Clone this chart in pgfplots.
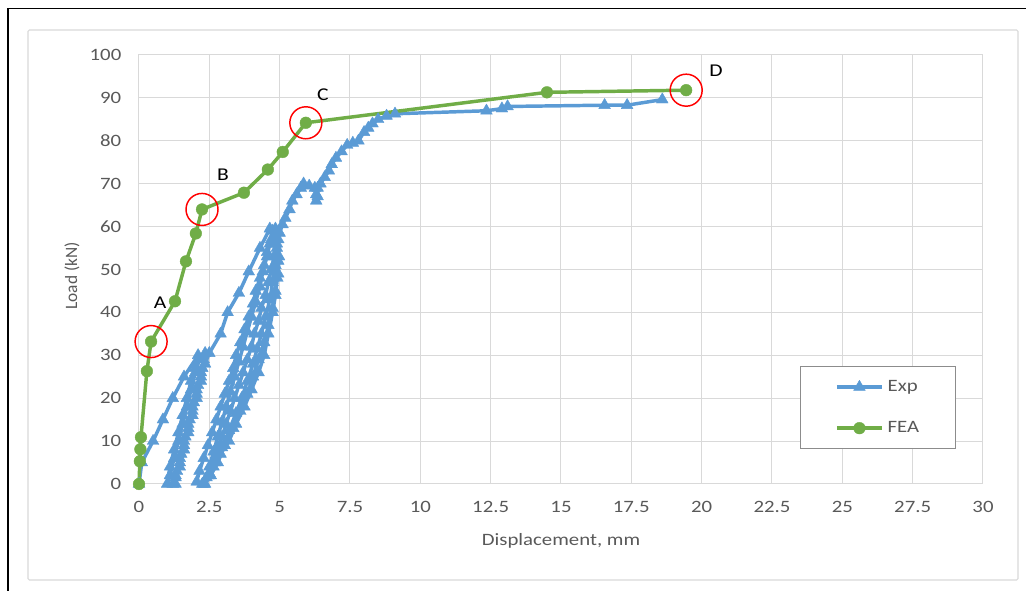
\documentclass[border=0pt]{standalone}
\usepackage{fontspec}
\setmainfont{Carlito}[FakeStretch=1.2]
\newfontfamily\plainfont{Carlito}
\usepackage{pgfplots}
\pgfplotsset{compat=1.18}
\definecolor{expblue}{HTML}{5B9BD5}
\definecolor{feagreen}{HTML}{70AD47}
\definecolor{gridgray}{HTML}{D9D9D9}
\definecolor{txtgray}{HTML}{595959}
\definecolor{legendgray}{HTML}{8C8C8C}
\begin{document}
\begin{tikzpicture}
\useasboundingbox (0,0) rectangle (769.5pt,-443.25pt);
\draw[black, line width=1.2pt] (6pt,-443.25pt) -- (6pt,-6.4pt) -- (769.5pt,-6.4pt);
\draw[gridgray, line width=0.8pt, rounded corners=1pt] (21pt,-22.5pt) rectangle (763.5pt,-435pt);
\begin{axis}[
  at={(104.25pt,-363pt)}, anchor=south west,
  scale only axis, width=633pt, height=321.75pt,
  xmin=0, xmax=30, ymin=0, ymax=100,
  clip=false,
  xtick={0,2.5,5,7.5,10,12.5,15,17.5,20,22.5,25,27.5,30},
  xticklabels={0,2.5,5,7.5,10,12.5,15,17.5,20,22.5,25,27.5,30},
  ytick={0,10,20,30,40,50,60,70,80,90,100},
  yticklabels={0,10,20,30,40,50,60,70,80,90,100},
  major tick length=0pt,
  grid=major,
  major grid style={gridgray, line width=0.75pt},
  axis line style={gridgray, line width=0.75pt},
  tick label style={font=\fontsize{13}{15}\selectfont, text=txtgray},
  xticklabel style={yshift=-9.5pt},
  yticklabel style={xshift=-9.75pt},
  xlabel={Displacement, mm},
  ylabel={Load (kN)},
  xlabel style={font=\fontsize{13}{15}\selectfont, text=txtgray, at={(axis description cs:0.5,-0.1329)}, anchor=center},
  ylabel style={font=\plainfont\fontsize{13}{15}\selectfont, text=txtgray, at={(axis description cs:-0.0794,0.485)}, anchor=center},
  legend style={at={(axis description cs:0.7832,0.2751)}, anchor=north west,
    draw=legendgray, line width=0.75pt, fill=white,
    inner xsep=26pt, inner ysep=9pt,
    font=\fontsize{13}{15}\selectfont, text=txtgray,
    nodes={inner sep=1.5pt},
    row sep=18pt,
    /tikz/every odd column/.style={column sep=1.5pt},
    cells={anchor=west}},
  legend image code/.code={\draw[mark repeat=2,mark phase=2,#1] plot coordinates {(0pt,0pt) (16.9pt,0pt) (33.75pt,0pt)};},
]
\addplot[expblue, line width=2.6pt, line join=round, mark=triangle*, mark size=5.1pt, mark options={solid, fill=expblue, draw=expblue, line width=0.3pt}] coordinates {
(0,0) (0.1,5) (0.5,10) (0.85,15) (1.2,20) (1.6,25) (2.1,30)
(2.0,27) (1.85,24) (1.7,20) (1.55,16) (1.4,12) (1.25,8) (1.1,4) (1.0,0)
(1.1,2) (1.25,6) (1.4,10) (1.55,14) (1.7,18) (1.85,22) (2.0,26) (2.15,29) (2.35,30.5)
(2.25,27) (2.1,23) (1.95,19) (1.8,15) (1.65,11) (1.5,7) (1.35,3) (1.3,0)
(1.3,2) (1.45,6) (1.6,10) (1.75,14) (1.9,18) (2.05,22) (2.2,26) (2.3,29)
(2.2,25) (2.05,21) (1.9,17) (1.75,13) (1.6,9) (1.45,5) (1.3,1.5) (1.2,0)
(1.45,4) (1.6,8) (1.75,12) (1.9,16) (2.05,20) (2.2,24) (2.35,28) (2.5,30.5)
(2.9,35) (3.15,40) (3.55,44.5) (3.9,49.5) (4.3,55) (4.65,59.5)
(4.85,56) (4.95,52) (4.92,48) (4.85,44) (4.75,40) (4.6,35) (4.45,30) (4.25,26) (4.0,22) (3.75,18) (3.45,14) (3.2,10) (2.9,7) (2.65,4) (2.45,2) (2.25,0)
(2.05,0.5) (2.15,3) (2.3,6) (2.45,9) (2.6,12) (2.75,15) (2.9,18) (3.05,21) (3.2,24) (3.35,27) (3.45,30) (3.6,33) (3.75,36) (3.9,39) (4.05,42) (4.15,45) (4.3,48) (4.45,51) (4.55,54) (4.7,57) (4.85,59.5)
(4.95,57) (4.98,53) (4.95,49) (4.85,45) (4.75,41) (4.6,37) (4.45,33) (4.25,29) (4.05,25) (3.85,21) (3.6,17) (3.35,13) (3.05,9) (2.8,5) (2.55,2) (2.35,0)
(2.4,1.5) (2.5,4) (2.65,7.5) (2.8,11) (2.95,14.5) (3.1,18) (3.25,21.5) (3.4,25) (3.55,28.5) (3.7,32) (3.85,35.5) (4.0,39) (4.15,42.5) (4.3,46) (4.4,49.5) (4.55,53) (4.65,56) (4.75,59)
(4.9,55) (4.85,51) (4.75,47) (4.65,43) (4.5,39) (4.35,35) (4.2,31.5) (4.05,28) (3.85,24) (3.65,20) (3.45,16.5) (3.2,12.5) (2.95,8.5) (2.7,5) (2.5,2.5) (2.3,0)
(2.5,2) (2.65,5) (2.8,8) (2.95,11) (3.1,14) (3.25,17) (3.4,20) (3.55,23) (3.7,26) (3.85,29) (4.0,32) (4.1,35) (4.25,38) (4.35,41) (4.5,44) (4.6,47) (4.7,50) (4.8,53) (4.9,56) (5.0,58.5) (5.1,60.5)
(5.2,62) (5.35,64) (5.45,66) (5.6,67.5) (5.75,69) (5.85,70) (6.05,69.5) (6.25,69) (6.3,67.5) (6.3,66) (6.35,67) (6.35,69) (6.45,70)
(6.6,71.5) (6.75,73) (6.85,74.5) (7.0,76) (7.2,77.5) (7.4,79) (7.6,79.5) (7.8,80) (8.0,82) (8.15,83) (8.3,84) (8.5,85) (8.8,85.8) (9.1,86.3)
(12.35,87) (12.9,87.5) (13.1,88) (16.55,88.3) (17.35,88.3) (18.6,89.6)
};
\addlegendentry{Exp}
\addplot[feagreen, line width=2.6pt, line join=round, mark=*, mark size=4.4pt, mark options={solid, fill=feagreen, draw=feagreen, line width=0.3pt}] coordinates {
(0,0) (0.03,5.3) (0.05,8.1) (0.07,10.9) (0.28,26.3) (0.43,33.2) (1.28,42.6) (1.67,51.9) (2.02,58.4) (2.24,64) (3.73,67.9) (4.58,73.3) (5.11,77.4) (5.93,84.2) (14.5,91.3) (19.45,91.8)
};
\addlegendentry{FEA}
\addplot[forget plot, only marks, mark=o, mark size=12pt, mark options={draw=red, line width=1.1pt}] coordinates {
(0.43,33.2) (2.24,64) (5.93,84.2) (19.45,91.8)
};
\node[font=\fontsize{13.5}{15}\selectfont, text=black] at (axis cs:0.75,42.2) {A};
\node[font=\fontsize{13.5}{15}\selectfont, text=black] at (axis cs:2.99,72.0) {B};
\node[font=\fontsize{13.5}{15}\selectfont, text=black] at (axis cs:6.54,90.7) {C};
\node[font=\fontsize{13.5}{15}\selectfont, text=black] at (axis cs:20.51,96.3) {D};
\end{axis}
\end{tikzpicture}
\end{document}
